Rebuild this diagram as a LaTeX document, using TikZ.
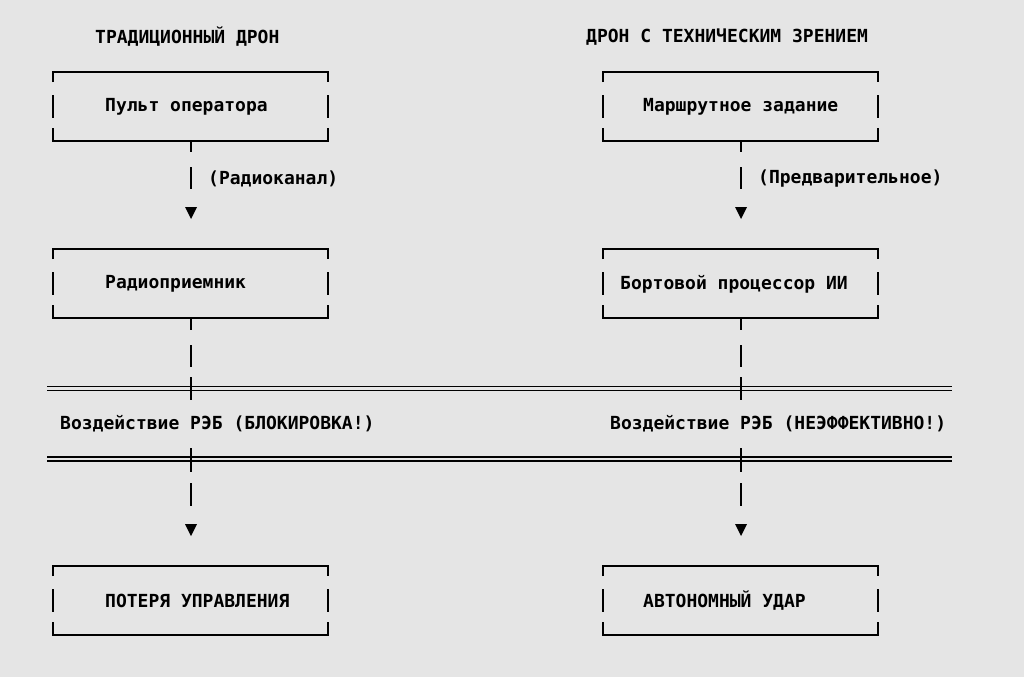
\documentclass[tikz,border=0pt]{standalone}
\usepackage{fontspec}
\newfontfamily\monob{DejaVu Sans Mono}
\begin{document}
\begin{tikzpicture}[x=1pt,y=-1pt,
  txt/.style={anchor=west,inner sep=0pt,font=\monob\bfseries\fontsize{18pt}{20pt}\selectfont,text=black},
  ln/.style={line width=2pt,black},
  dbl/.style={line width=1.4pt,black},
  tri/.style={fill=black}]
\fill[gray!20!white,fill=black!10] (0,0) rectangle (1024,677);
\useasboundingbox (0,0) rectangle (1024,677);
% ASCII-like box: #1 left x, #2 top y
\newcommand{\abox}[2]{%
  \draw[ln] (#1,#2+10) -- (#1,#2) -- (#1+275,#2) -- (#1+275,#2+10);
  \draw[ln] (#1,#2+23) -- (#1,#2+46);
  \draw[ln] (#1+275,#2+23) -- (#1+275,#2+46);
  \draw[ln] (#1,#2+56) -- (#1,#2+69) -- (#1+275,#2+69) -- (#1+275,#2+56);}
\newcommand{\darrow}[2]{\fill[tri] (#1-6,#2-6) -- (#1+6,#2-6) -- (#1,#2+6) -- cycle;}
% headers
\node[txt] (h1) at (95,37) {ТРАДИЦИОННЫЙ ДРОН};
\node[txt] (h2) at (586,37) {ДРОН С ТЕХНИЧЕСКИМ ЗРЕНИЕМ};
% boxes
\abox{53}{72} \abox{53}{249} \abox{53}{566}
\abox{603}{72} \abox{603}{249} \abox{603}{566}
\node[txt] (a1) at (105,107) {Пульт оператора};
\node[txt] (a2) at (105,284) {Радиоприемник};
\node[txt] (a3) at (105,601) {ПОТЕРЯ УПРАВЛЕНИЯ};
\node[txt] (b1) at (643,107) {Маршрутное задание};
\node[txt] (b2) at (620,284) {Бортовой процессор ИИ};
\node[txt] (b3) at (643,601) {АВТОНОМНЫЙ УДАР};
\node[txt] (la) at (208,179) {(Радиоканал)};
\node[txt] (lb) at (758,179) {(Предварительное)};
\node[txt] (ea) at (60,424) {Воздействие РЭБ (БЛОКИРОВКА!)};
\node[txt] (eb) at (610,424) {Воздействие РЭБ (НЕЭФФЕКТИВНО!)};
% double lines
\foreach \y in {386.5,390.5,457,461} \draw[dbl] (47,\y) -- (952,\y);
% connectors
\foreach \x in {191,741}{
  \draw[ln] (\x,141) -- (\x,152);
  \draw[ln] (\x,167) -- (\x,189);
  \darrow{\x}{213}
  \draw[ln] (\x,318) -- (\x,330);
  \draw[ln] (\x,345) -- (\x,367);
  \draw[ln] (\x,377) -- (\x,400);
  \draw[ln] (\x,448) -- (\x,472);
  \draw[ln] (\x,483) -- (\x,506);
  \darrow{\x}{530}
}
\end{tikzpicture}
\end{document}
